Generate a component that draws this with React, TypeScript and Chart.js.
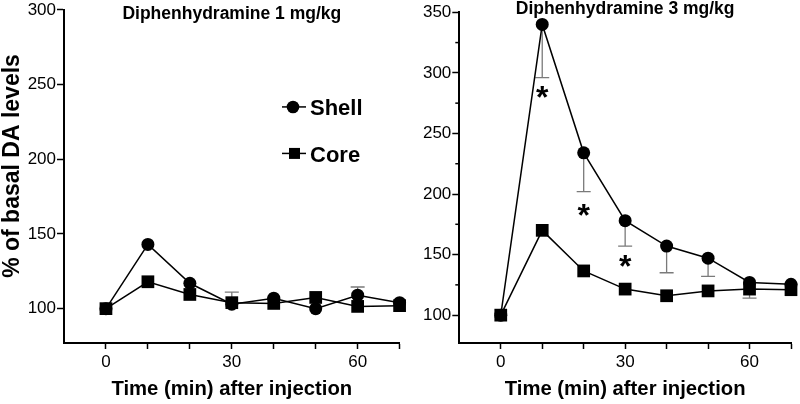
import React, { useEffect, useRef } from "react";
import { Chart, registerables } from "chart.js";

Chart.register(...registerables);

const FONT = '"Liberation Sans", Arial, sans-serif';

// ---- data ----
const timeMin = [0, 10, 20, 30, 40, 50, 60, 70];
const xTickValues = [0, 10, 20, 30, 40, 50, 60, 70];
const xLabelValues = [0, 30, 60];

// Diphenhydramine 1 mg/kg
const shell1 = [100, 143, 117, 103, 107, 100, 109, 104];
const core1 = [100, 118, 109.5, 104, 103.5, 107.5, 101.5, 102];
const shell1Err = [0, 0, 0, 0, 0, 0, 5.5, 0];
const core1Err = [0, 0, 0, 7, 0, 0, 0, 0];
const yTicks1 = [100, 150, 200, 250, 300];

// Diphenhydramine 3 mg/kg
const shell3 = [100, 340, 234, 178, 157, 147, 127, 125.5];
const core3 = [100, 170, 136.5, 121.5, 116, 120, 121.5, 121];
const shell3Err = [0, -44, -32, -21, -22, -15, 0, 0];
const core3Err = [0, 0, 0, 0, 0, 0, -7.5, 0];
const yTicks3 = [100, 150, 200, 250, 300, 350];
const yMinor3 = [125, 175, 225, 275, 325];
const starTimes3 = [10, 20, 30];
const starValues3 = [284, 187, 145];

const legendLabels = ["Shell", "Core"];
const xTitle = "Time (min) after injection";
const yTitle = "% of basal DA levels";

type PanelSpec = {
  title: string;
  titleBaseline: number;
  shell: number[];
  core: number[];
  shellErr: number[];
  coreErr: number[];
  yMax: number;
  yTicks: number[];
  yMinor: number[];
  starTimes: number[];
  starValues: number[];
  showLegend: boolean;
  showYTitle: boolean;
  axisLeft: number;
  rightPad: number;
  topPad: number;
};

const panel1: PanelSpec = {
  title: "Diphenhydramine 1 mg/kg",
  titleBaseline: 18.5,
  shell: shell1,
  core: core1,
  shellErr: shell1Err,
  coreErr: core1Err,
  yMax: 300,
  yTicks: yTicks1,
  yMinor: [],
  starTimes: [],
  starValues: [],
  showLegend: true,
  showYTitle: true,
  axisLeft: 64,
  rightPad: 20.4,
  topPad: 9,
};

const panel3: PanelSpec = {
  title: "Diphenhydramine 3 mg/kg",
  titleBaseline: 13.5,
  shell: shell3,
  core: core3,
  shellErr: shell3Err,
  coreErr: core3Err,
  yMax: 350,
  yTicks: yTicks3,
  yMinor: yMinor3,
  starTimes: starTimes3,
  starValues: starValues3,
  showLegend: false,
  showYTitle: false,
  axisLeft: 59.3,
  rightPad: 7.3,
  topPad: 12.3,
};

function buildConfig(p: PanelSpec): any {
  const decor = {
    id: "decor",
    beforeDatasetsDraw(chart: any) {
      const ctx = chart.ctx;
      const xs = chart.scales.x;
      const ys = chart.scales.y;
      ctx.save();
      ctx.strokeStyle = "#7a7a7a";
      ctx.lineWidth = 1.3;
      const series = [
        { v: p.shell, e: p.shellErr },
        { v: p.core, e: p.coreErr },
      ];
      for (const s of series) {
        for (let i = 0; i < timeMin.length; i++) {
          const err = s.e[i];
          if (!err) continue;
          const x = xs.getPixelForValue(timeMin[i]);
          const y0 = ys.getPixelForValue(s.v[i]);
          const y1 = ys.getPixelForValue(s.v[i] + err);
          ctx.beginPath();
          ctx.moveTo(x, y0);
          ctx.lineTo(x, y1);
          ctx.moveTo(x - 7, y1);
          ctx.lineTo(x + 7, y1);
          ctx.stroke();
        }
      }
      ctx.restore();
    },
    afterDraw(chart: any) {
      const ctx = chart.ctx;
      const xs = chart.scales.x;
      const ys = chart.scales.y;
      const area = chart.chartArea;
      ctx.save();
      ctx.fillStyle = "#000";
      // panel title
      ctx.font = `bold 17.5px ${FONT}`;
      ctx.textAlign = "center";
      ctx.textBaseline = "alphabetic";
      ctx.fillText(p.title, (area.left + area.right) / 2, p.titleBaseline);

      // minor y ticks
      if (p.yMinor.length) {
        ctx.strokeStyle = "#000";
        ctx.lineWidth = 1.5;
        for (const v of p.yMinor) {
          const y = ys.getPixelForValue(v);
          ctx.beginPath();
          ctx.moveTo(area.left - 4, y);
          ctx.lineTo(area.left, y);
          ctx.stroke();
        }
      }

      // significance stars
      ctx.font = `bold 32px ${FONT}`;
      ctx.textAlign = "center";
      for (let i = 0; i < p.starTimes.length; i++) {
        const x = xs.getPixelForValue(p.starTimes[i]);
        const y = ys.getPixelForValue(p.starValues[i]);
        const m = ctx.measureText("*");
        const off = (m.actualBoundingBoxAscent - m.actualBoundingBoxDescent) / 2;
        ctx.fillText("*", x, y + off);
      }

      // y title
      if (p.showYTitle) {
        ctx.save();
        ctx.translate(19, 166);
        ctx.rotate(-Math.PI / 2);
        ctx.font = `bold 23px ${FONT}`;
        ctx.textAlign = "center";
        ctx.textBaseline = "alphabetic";
        ctx.fillText(yTitle, 0, 0);
        ctx.restore();
      }

      // legend
      if (p.showLegend) {
        const lx = area.left + 229;
        const rows = [area.top + 97, area.top + 143.5];
        ctx.strokeStyle = "#000";
        ctx.lineWidth = 1.5;
        rows.forEach((ry, k) => {
          ctx.beginPath();
          ctx.moveTo(lx - 11, ry);
          ctx.lineTo(lx + 13, ry);
          ctx.stroke();
          ctx.beginPath();
          if (k === 0) {
            ctx.arc(lx, ry, 6.3, 0, Math.PI * 2);
          } else {
            ctx.rect(lx + 1.5 - 5.5, ry - 5.5, 11, 11);
          }
          ctx.fill();
          ctx.font = `bold 22px ${FONT}`;
          ctx.textAlign = "left";
          ctx.textBaseline = "alphabetic";
          ctx.fillText(legendLabels[k], lx + 17, ry + 8.5);
        });
      }
      ctx.restore();
    },
  };

  return {
    type: "line",
    data: {
      labels: timeMin,
      datasets: [
        {
          label: legendLabels[1],
          data: timeMin.map((t, i) => ({ x: t, y: p.core[i] })),
          borderColor: "#000",
          backgroundColor: "#000",
          borderWidth: 1.5,
          pointStyle: "rect",
          pointRadius: 9,
          pointBorderWidth: 0,
          pointBackgroundColor: "#000",
          clip: false,
          order: 0,
        },
        {
          label: legendLabels[0],
          data: timeMin.map((t, i) => ({ x: t, y: p.shell[i] })),
          borderColor: "#000",
          backgroundColor: "#000",
          borderWidth: 1.5,
          pointStyle: "circle",
          pointRadius: 6.5,
          pointBorderWidth: 0,
          pointBackgroundColor: "#000",
          clip: false,
          order: 1,
        },
      ],
    },
    options: {
      responsive: false,
      animation: false,
      devicePixelRatio: 1,
      events: [],
      layout: { padding: { left: 0, right: p.rightPad, top: p.topPad, bottom: 0 } },
      plugins: { legend: { display: false }, tooltip: { enabled: false }, title: { display: false } },
      scales: {
        x: {
          type: "linear",
          min: -10,
          max: 70,
          afterBuildTicks(scale: any) {
            scale.ticks = xTickValues.map((v) => ({ value: v }));
          },
          afterFit(scale: any) {
            scale.height = 61;
          },
          ticks: {
            autoSkip: false,
            maxRotation: 0,
            padding: 4,
            color: "#000",
            font: { family: FONT, size: 17, lineHeight: 1.05 },
            callback: (v: number) => (xLabelValues.includes(v) ? String(v) : ""),
          },
          grid: {
            drawOnChartArea: false,
            drawTicks: true,
            tickLength: 6,
            tickWidth: 1.5,
            tickColor: "#000",
          },
          border: { display: true, color: "#000", width: 2 },
          title: {
            display: true,
            text: xTitle,
            color: "#000",
            font: { family: FONT, size: 20.3, weight: "bold", lineHeight: 1.2 },
            padding: { top: 0, bottom: 2 },
          },
        },
        y: {
          type: "linear",
          min: 77,
          max: p.yMax,
          afterBuildTicks(scale: any) {
            scale.ticks = p.yTicks.map((v) => ({ value: v }));
          },
          afterFit(scale: any) {
            scale.width = p.axisLeft;
          },
          ticks: {
            padding: 1,
            color: "#000",
            font: { family: FONT, size: 17, lineHeight: 1.05 },
          },
          grid: {
            drawOnChartArea: false,
            drawTicks: true,
            tickLength: 7,
            tickWidth: 1.5,
            tickColor: "#000",
          },
          border: { display: true, color: "#000", width: 2 },
        },
      },
    },
    plugins: [decor],
  };
}

export default function App() {
  const ref1 = useRef<HTMLCanvasElement>(null);
  const ref3 = useRef<HTMLCanvasElement>(null);
  useEffect(() => {
    const c1 = new Chart(ref1.current as HTMLCanvasElement, buildConfig(panel1));
    const c3 = new Chart(ref3.current as HTMLCanvasElement, buildConfig(panel3));
    return () => {
      c1.destroy();
      c3.destroy();
    };
  }, []);
  return (
    <div
      style={{
        position: "absolute",
        left: 0,
        top: 0,
        width: 800,
        height: 404,
        background: "#fff",
        overflow: "hidden",
      }}
    >
      <canvas
        ref={ref1}
        width={420}
        height={404}
        style={{ position: "absolute", left: 0, top: 0, width: 420, height: 404 }}
      />
      <canvas
        ref={ref3}
        width={400}
        height={404}
        style={{ position: "absolute", left: 400, top: 0, width: 400, height: 404 }}
      />
    </div>
  );
}
